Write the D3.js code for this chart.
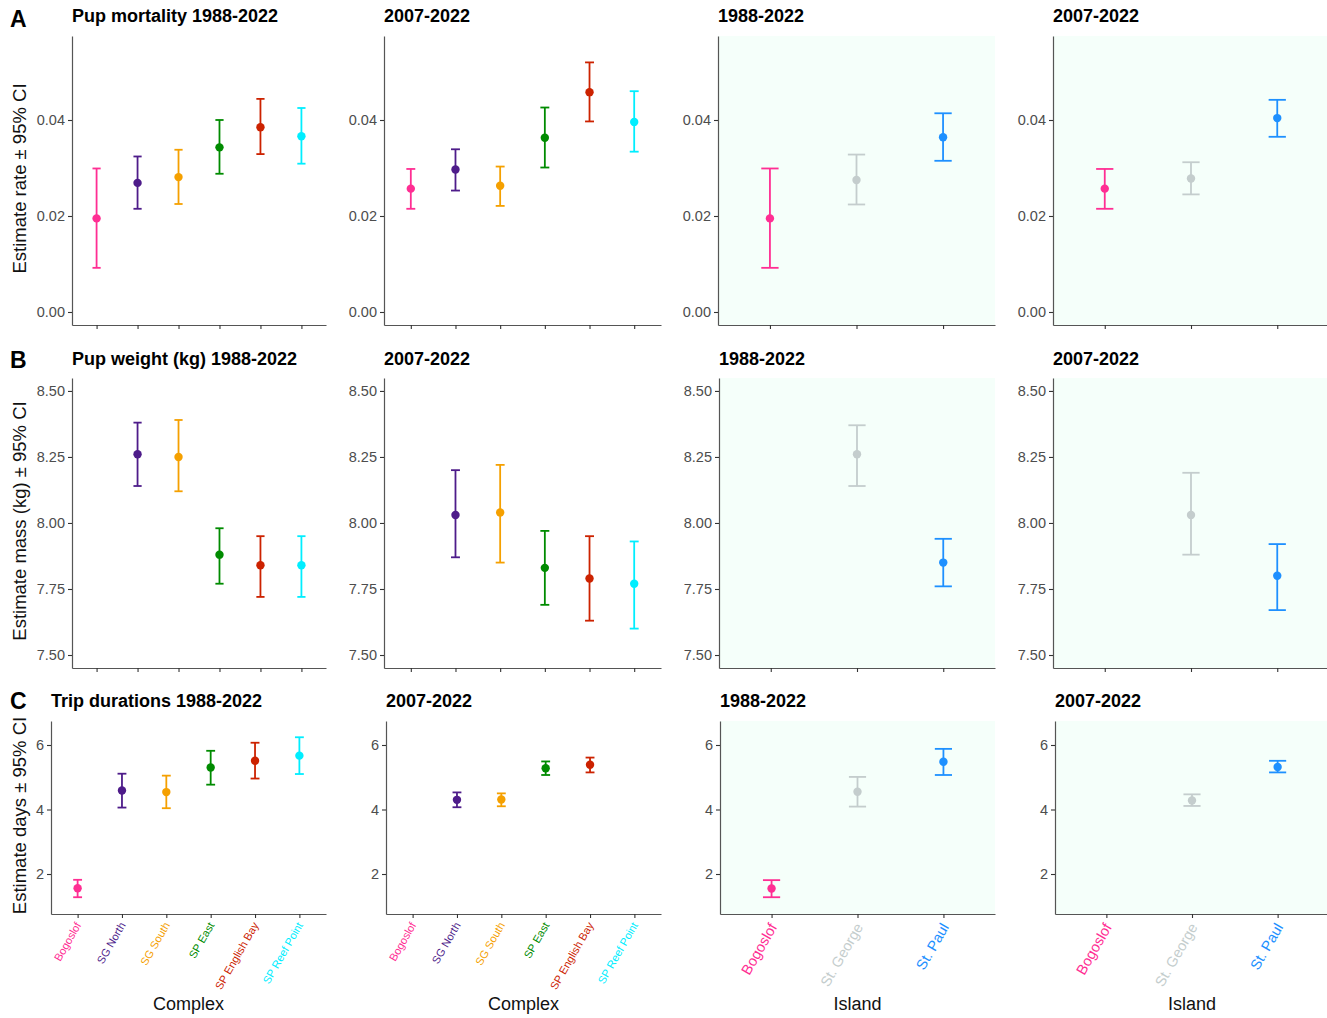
<!DOCTYPE html>
<html><head><meta charset="utf-8">
<script src="https://cdn.jsdelivr.net/npm/d3@7"></script>
<style>
body{margin:0;background:#fff}
svg{display:block}
text{font-family:"Liberation Sans",Arial,Helvetica,sans-serif}
</style>
</head><body>
<svg id="chart" width="1327" height="1018"></svg>
<script>
// ---------- DATA ----------
const complexes = ["Bogoslof","SG North","SG South","SP East","SP English Bay","SP Reef Point"];
const islands = ["Bogoslof","St. George","St. Paul"];
const complexColors = ["#FF2E93","#4E1C8A","#F5A000","#008B00","#CC2200","#00EEFF"];
const islandColors = ["#FF2E93","#C4CDCD","#1E90FF"];

// each entry: [estimate, lower 95% CI, upper 95% CI]; null = no estimate
const mortalityComplex1988 = [[0.0195,0.0092,0.0299],[0.0269,0.0215,0.0324],[0.0281,0.0225,0.0338],[0.0343,0.0288,0.0400],[0.0385,0.0329,0.0444],[0.0366,0.0309,0.0425]];
const mortalityComplex2007 = [[0.0257,0.0215,0.0298],[0.0297,0.0253,0.0339],[0.0263,0.0221,0.0303],[0.0363,0.0301,0.0426],[0.0458,0.0397,0.0520],[0.0396,0.0334,0.0460]];
const mortalityIsland1988 = [[0.0195,0.0092,0.0299],[0.0275,0.0224,0.0328],[0.0364,0.0315,0.0414]];
const mortalityIsland2007 = [[0.0257,0.0215,0.0298],[0.0278,0.0245,0.0312],[0.0404,0.0365,0.0442]];

const weightComplex1988 = [null,[8.26,8.14,8.38],[8.25,8.12,8.39],[7.88,7.77,7.98],[7.84,7.72,7.95],[7.84,7.72,7.95]];
const weightComplex2007 = [null,[8.03,7.87,8.20],[8.04,7.85,8.22],[7.83,7.69,7.97],[7.79,7.63,7.95],[7.77,7.60,7.93]];
const weightIsland1988 = [null,[8.26,8.14,8.37],[7.85,7.76,7.94]];
const weightIsland2007 = [null,[8.03,7.88,8.19],[7.80,7.67,7.92]];

const tripComplex1988 = [[1.56,1.28,1.82],[4.59,4.06,5.11],[4.54,4.04,5.05],[5.30,4.77,5.82],[5.51,4.96,6.07],[5.67,5.10,6.24]];
const tripComplex2007 = [null,[4.30,4.07,4.53],[4.31,4.10,4.50],[5.28,5.07,5.49],[5.39,5.15,5.61],null];
const tripIsland1988 = [[1.55,1.28,1.81],[4.55,4.09,5.01],[5.48,5.07,5.88]];
const tripIsland2007 = [null,[4.28,4.11,4.47],[5.32,5.15,5.51]];

const mortalityTicks = [0, 0.02, 0.04];
const weightTicks = [7.5, 7.75, 8, 8.25, 8.5];
const tripTicks = [2, 4, 6];

const rowLetters = ["A","B","C"];
const rowTitles = ["Pup mortality 1988-2022","Pup weight (kg) 1988-2022","Trip durations 1988-2022"];
const periodTitles = ["2007-2022","1988-2022","2007-2022"];
const yTitles = ["Estimate rate \u00B1 95% CI","Estimate mass (kg) \u00B1 95% CI","Estimate days \u00B1 95% CI"];
const xTitles = ["Complex","Complex","Island","Island"];

// ---------- LAYOUT ----------
const W = 1327, H = 1018;
const colLeft = [[72,384,718,1053],[72,384,719,1053],[51,386,720,1055]];
const colRight = [326,661,995,1329];
const rowTop = [36,378,721];
const rowBottom = [325,668,914];
const titleBase = [22,365,707];
const letterBase = [27,368,709];
const yDomains = [[-0.00271,0.0575],[7.4508,8.549],[0.760,6.744]];
const rowTicks = [mortalityTicks, weightTicks, tripTicks];
const rowFormats = [d3.format(".2f"), d3.format(".2f"), d3.format("d")];
const rowData = [
  [mortalityComplex1988, mortalityComplex2007, mortalityIsland1988, mortalityIsland2007],
  [weightComplex1988, weightComplex2007, weightIsland1988, weightIsland2007],
  [tripComplex1988, tripComplex2007, tripIsland1988, tripIsland2007]
];

const svg = d3.select("#chart");
svg.append("rect").attr("width",W).attr("height",H).attr("fill","#fff");

for (let r = 0; r < 3; r++) {
  for (let c = 0; c < 4; c++) {
    const cats = c < 2 ? complexes : islands;
    const cols = c < 2 ? complexColors : islandColors;
    const data = rowData[r][c];
    const left = colLeft[r][c], right = colRight[c], top = rowTop[r], bottom = rowBottom[r];
    const x = d3.scalePoint().domain(cats).range([left, right]).padding(0.6);
    const y = d3.scaleLinear().domain(yDomains[r]).range([bottom, top]);
    const g = svg.append("g");

    if (c >= 2) {
      g.append("rect").attr("x", left).attr("y", top)
        .attr("width", right - left).attr("height", bottom - top)
        .attr("fill", "#F5FFFA");
    }

    const pts = cats.map((k, i) => ({cat: k, col: cols[i], v: data[i]})).filter(d => d.v);
    const hw = x.step() * 0.1;
    const eb = g.append("g").selectAll("g").data(pts).join("g")
      .attr("stroke", d => d.col).attr("stroke-width", 1.8).attr("fill", "none");
    eb.append("line").attr("x1", d => x(d.cat)).attr("x2", d => x(d.cat))
      .attr("y1", d => y(d.v[1])).attr("y2", d => y(d.v[2]));
    eb.append("line").attr("x1", d => x(d.cat) - hw).attr("x2", d => x(d.cat) + hw)
      .attr("y1", d => y(d.v[1])).attr("y2", d => y(d.v[1]));
    eb.append("line").attr("x1", d => x(d.cat) - hw).attr("x2", d => x(d.cat) + hw)
      .attr("y1", d => y(d.v[2])).attr("y2", d => y(d.v[2]));
    g.append("g").selectAll("circle").data(pts).join("circle")
      .attr("cx", d => x(d.cat)).attr("cy", d => y(d.v[0]))
      .attr("r", 4.2).attr("fill", d => d.col);

    // y axis
    const ya = g.append("g").attr("transform", `translate(${left},0)`)
      .call(d3.axisLeft(y).tickValues(rowTicks[r]).tickFormat(rowFormats[r])
        .tickSize(4).tickSizeOuter(0).tickPadding(3));
    // x axis
    const xa = g.append("g").attr("transform", `translate(0,${bottom})`)
      .call(d3.axisBottom(x).tickSize(4).tickSizeOuter(0).tickFormat(""));
    [ya, xa].forEach(a => {
      a.select(".domain").attr("stroke", "#555").attr("stroke-width", 1.2);
      a.selectAll(".tick line").attr("stroke", "#333").attr("stroke-width", 1.1);
      a.selectAll(".tick text").attr("fill", "#4D4D4D").attr("font-size", 14.5);
    });

    // x labels (row C)
    if (r === 2) {
      const fs = c < 2 ? 11 : 14.5;
      g.append("g").selectAll("text").data(cats.map((k, i) => ({cat: k, col: cols[i]}))).join("text")
        .attr("transform", d => `translate(${x(d.cat) + (c < 2 ? 4 : 6)},${bottom + (c < 2 ? 11 : 13)}) rotate(-60)`)
        .attr("text-anchor", "end")
        .attr("font-size", fs)
        .attr("fill", d => d.col)
        .text(d => d.cat);
      g.append("text").attr("x", (left + right) / 2).attr("y", 1010)
        .attr("text-anchor", "middle").attr("font-size", 18).attr("fill", "#111")
        .text(xTitles[c]);
    }

    // titles
    g.append("text").attr("x", left).attr("y", titleBase[r])
      .attr("font-size", 18).attr("font-weight", "bold").attr("fill", "#000")
      .text(c === 0 ? rowTitles[r] : periodTitles[c - 1]);

    if (c === 0) {
      g.append("text")
        .attr("transform", `translate(26,${(top + bottom) / 2 - 2}) rotate(-90)`)
        .attr("text-anchor", "middle").attr("font-size", 18.5).attr("fill", "#111")
        .text(yTitles[r]);
      g.append("text").attr("x", 10).attr("y", letterBase[r])
        .attr("font-size", 23).attr("font-weight", "bold").attr("fill", "#000")
        .text(rowLetters[r]);
    }
  }
}
</script>
</body></html>
